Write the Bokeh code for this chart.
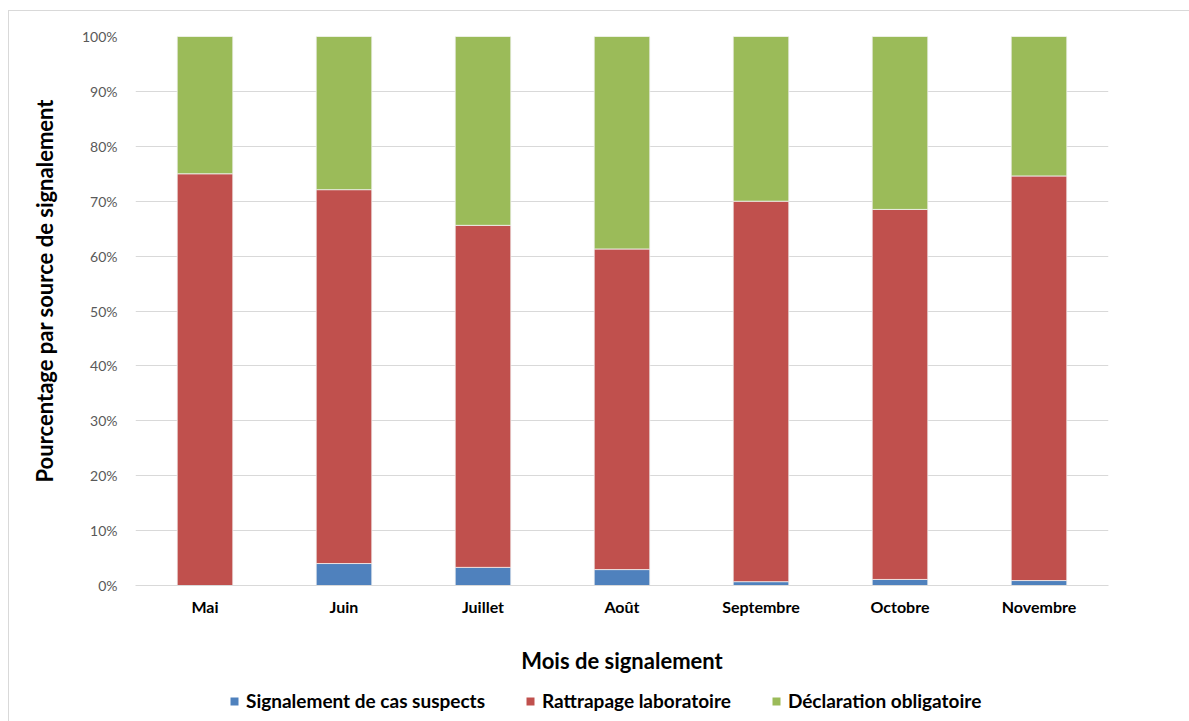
from bokeh.plotting import figure
from bokeh.models import ColumnDataSource, Legend, LegendItem, FixedTicker, Range1d, Title
from bokeh.layouts import column
from bokeh.embed import file_html
from bokeh.resources import INLINE

months = ["Mai", "Juin", "Juillet", "Août", "Septembre", "Octobre", "Novembre"]
suspects = [0.0, 4.0, 3.3, 2.9, 0.7, 1.1, 0.9]
laboratoire = [75.0, 68.1, 62.3, 58.4, 69.3, 67.4, 73.7]
obligatoire = [25.0, 27.9, 34.4, 38.7, 30.0, 31.5, 25.4]
series = ["suspects", "laboratoire", "obligatoire"]
series_labels = ["Signalement de cas suspects", "Rattrapage laboratoire", "Déclaration obligatoire"]
colors = ["#4F81BD", "#C0504D", "#9BBB59"]
y_ticks = list(range(0, 101, 10))

source = ColumnDataSource(dict(months=months, suspects=suspects,
                               laboratoire=laboratoire, obligatoire=obligatoire))

FONT = "Lato"

p = figure(x_range=months, width=1180, height=669, output_backend="svg",
           toolbar_location=None, min_border_left=126, min_border_right=81,
           min_border_top=25, min_border_bottom=95)
p.y_range = Range1d(0, 100)
p.x_range.range_padding = 0.0

p.vbar_stack(series, x="months", width=0.4, color=colors,
             line_color="#f2f2f2", line_width=0.8, source=source)

p.outline_line_color = None
p.background_fill_color = "white"
p.border_fill_color = "white"

p.xgrid.grid_line_color = None
p.ygrid.grid_line_color = "#d9d9d9"
p.ygrid.grid_line_width = 1
p.ygrid.ticker = FixedTicker(ticks=y_ticks)

p.yaxis.ticker = FixedTicker(ticks=y_ticks)
p.yaxis.major_label_overrides = {t: f"{t}%" for t in y_ticks}
p.yaxis.axis_line_color = None
p.yaxis.major_tick_line_color = None
p.yaxis.minor_tick_line_color = None
p.yaxis.major_label_text_font = FONT
p.yaxis.major_label_text_font_size = "14px"
p.yaxis.major_label_text_color = "#595959"
p.yaxis.major_label_standoff = 12

ytitle = Title(text="Pourcentage par source de signalement", align="left",
               vertical_align="top", offset=103, standoff=38, text_font=FONT,
               text_font_size="22px", text_font_style="bold", text_color="black")
p.add_layout(ytitle, "left")

p.xaxis.axis_line_color = "#d9d9d9"
p.xaxis.major_tick_line_color = None
p.xaxis.minor_tick_line_color = None
p.xaxis.major_label_text_font = FONT
p.xaxis.major_label_text_font_size = "16px"
p.xaxis.major_label_text_font_style = "bold"
p.xaxis.major_label_text_color = "black"
p.xaxis.major_label_standoff = 5
p.xaxis.axis_label = "Mois de signalement"
p.xaxis.axis_label_text_font = FONT
p.xaxis.axis_label_text_font_size = "22px"
p.xaxis.axis_label_text_font_style = "bold"
p.xaxis.axis_label_text_color = "black"
p.xaxis.axis_label_standoff = 28

# legend strip below the chart (its bars fall far outside its view; only the legend shows)
pl = figure(x_range=months, y_range=Range1d(1000, 1001), width=1180, height=41,
            output_backend="svg", toolbar_location=None,
            x_axis_type=None, y_axis_type=None, min_border=0)
pl.outline_line_color = None
pl.xgrid.grid_line_color = None
pl.ygrid.grid_line_color = None
pl.border_fill_color = "white"
pl.background_fill_color = "white"
lrs = pl.vbar_stack(series, x="months", width=0.4, color=colors, line_color=None,
                    source=source)
items = [LegendItem(label=lab, renderers=[r]) for lab, r in zip(series_labels, lrs)]
legend = Legend(items=items, orientation="horizontal", location=(94, 9),
                glyph_width=10, glyph_height=10, spacing=40, label_standoff=7,
                label_text_font=FONT, label_text_font_size="19px",
                label_text_font_style="bold", label_text_color="black",
                border_line_color=None, background_fill_alpha=0,
                padding=0, margin=0)
pl.add_layout(legend, "center")

layout = column(p, pl, spacing=0, margin=(10, 0, 0, 8),
                styles={"border-top": "1px solid #d9d9d9",
                        "border-left": "1px solid #d9d9d9"})

open("out.html", "w").write(file_html(layout, INLINE))
